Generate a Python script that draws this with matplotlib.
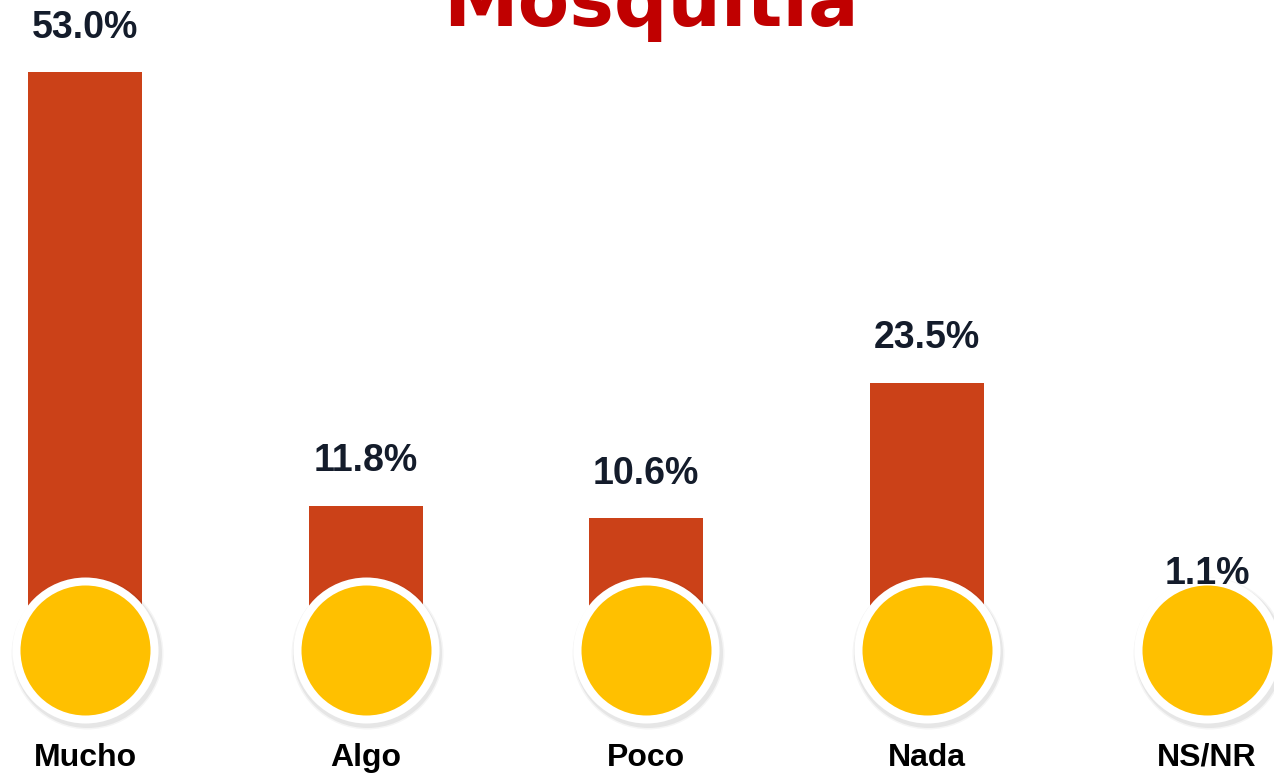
import matplotlib
matplotlib.use("Agg")
import matplotlib.pyplot as plt
from matplotlib.transforms import blended_transform_factory, offset_copy

categories = ["Mucho", "Algo", "Poco", "Nada", "NS/NR"]
values = [53.0, 11.8, 10.6, 23.5, 1.1]
value_labels = ["53.0%", "11.8%", "10.6%", "23.5%", "1.1%"]
title = "Mosquitia"

BAR = "#CB4118"
YELLOW = "#FFC000"
RED = "#C00000"
NAVY = "#141C2B"

W, H, DPI = 1274, 775, 100
fig = plt.figure(figsize=(W / DPI, H / DPI), dpi=DPI)
ax = fig.add_axes([0, 0, 1, 1])
ax.set_axis_off()

baseline_px, scale = 630.0, 10.52
x0_px, step_px = 85.0, 280.5
ax.set_xlim(-x0_px / step_px, (W - x0_px) / step_px)
ax.set_ylim((baseline_px - H) / scale, baseline_px / scale)

xs = list(range(len(categories)))
ax.bar(xs, values, width=114 / step_px, color=BAR, zorder=1)

bt = blended_transform_factory(ax.transData, ax.transAxes)
cy = 1 - 650 / H
pt = 72 / DPI
# soft shadow
for d, a in [(152, 0.04), (149, 0.06)]:
    shadow_tr = offset_copy(bt, fig=fig, x=1.5, y=-2.5, units="dots")
    ax.scatter(xs, [cy] * 5, s=(d * pt) ** 2, color="#000000", alpha=a,
               transform=shadow_tr, zorder=2, linewidths=0)
ax.scatter(xs, [cy] * 5, s=(146 * pt) ** 2, color="white", transform=bt,
           zorder=3, linewidths=0)
ax.scatter(xs, [cy] * 5, s=(130 * pt) ** 2, color=YELLOW, transform=bt,
           zorder=4, linewidths=0)

for x, v, lab in zip(xs, values, value_labels):
    ax.annotate(lab, (x, v), xytext=(0, 32), textcoords="offset points",
                ha="center", va="center", fontsize=27, fontweight="bold",
                color=NAVY, family="Liberation Sans", zorder=5)

for x, c in zip(xs, categories):
    ax.text(x, 1 - 758 / H, c, transform=bt, ha="center", va="center",
            fontsize=23, fontweight="bold", color="black",
            family="Liberation Sans", zorder=5)

fig.text(651 / W, 1 - 26 / H, title, ha="center", va="baseline",
         fontsize=54, fontweight="bold", color=RED, family="DejaVu Sans")

fig.savefig("out.png", dpi=DPI)
